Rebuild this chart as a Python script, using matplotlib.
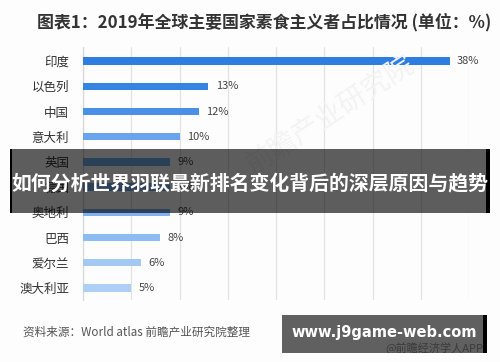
import matplotlib
matplotlib.use("Agg")
import matplotlib.pyplot as plt
from matplotlib.patches import Rectangle

plt.rcParams['font.family'] = ['Noto Sans CJK SC', 'DejaVu Sans']

categories = ["印度", "以色列", "中国", "意大利", "英国", "德国", "奥地利", "巴西", "爱尔兰", "澳大利亚"]
values = [38, 13, 12, 10, 9, 9, 9, 8, 6, 5]
bar_colors = ["#2e7de0", "#3584e2", "#4a90e6", "#68a5ee", "#74acf0", "#78aef0",
              "#7eb2f0", "#8cbcf2", "#a2c8f4", "#afd0f6"]
xticks = [0, 5, 10, 15, 20, 25, 30, 35, 40]

W, H = 500, 362
fig = plt.figure(figsize=(W / 100, H / 100), dpi=100)
fig.patch.set_facecolor("#fdfdfd")

def fx(x):
    return x / W

def fy(y):
    return 1 - y / H

ax = fig.add_axes([fx(83), fy(300), fx(469) - fx(83), fy(47) - fy(300)])
ax.set_facecolor("none")
ypos = list(range(len(categories)))
ax.barh(ypos, values, height=0.29, color=bar_colors, zorder=3)
ax.set_xlim(0, 40)
ax.set_ylim(9.48, -0.56)
ax.set_xticks(xticks)
ax.set_xticklabels([])
ax.tick_params(axis="x", length=0)
ax.grid(axis="x", color="#e3e3e3", linewidth=0.9, zorder=0)
ax.set_yticks(ypos)
ax.set_yticklabels(categories, fontsize=9, color="#333333")
ax.tick_params(axis="y", length=0, pad=10)
for s in ["top", "right", "bottom"]:
    ax.spines[s].set_visible(False)
ax.spines["left"].set_color("#d8d8d8")
ax.spines["left"].set_linewidth(0.9)
for yv, v in zip(ypos, values):
    ax.text(v + 0.75, yv, f"{v}%", va="center", ha="left", fontsize=8, color="#444444", zorder=4)

# faint watermark
fig.text(fx(330), fy(115), "前瞻产业研究院", fontsize=20, color="#f3f3f3", rotation=33,
         ha="center", va="center", zorder=1)

# title
fig.text(fx(37), fy(22), "图表1：2019年全球主要国家素食主义者占比情况 (单位：%)",
         fontsize=12.2, fontweight="bold", color="#333333", ha="left", va="center")

# source
fig.text(fx(23), fy(332), "资料来源：World atlas 前瞻产业研究院整理",
         fontsize=8.4, color="#555555", ha="left", va="center")

# overlay banner
fig.patches.append(Rectangle((fx(10), fy(212.5)), fx(486) - fx(10), fy(149) - fy(212.5),
                             transform=fig.transFigure, facecolor="black", alpha=0.63,
                             edgecolor="none", zorder=10))
fig.patches.append(Rectangle((fx(10), fy(212.5)), fx(1.5), fy(149) - fy(212.5),
                             transform=fig.transFigure, facecolor="black",
                             edgecolor="none", zorder=11))
fig.patches.append(Rectangle((fx(486), fy(212.5)), fx(4), fy(149) - fy(212.5),
                             transform=fig.transFigure, facecolor="black",
                             edgecolor="none", zorder=11))
fig.text(fx(250), fy(183), "如何分析世界羽联最新排名变化背后的深层原因与趋势",
         fontsize=14.3, fontweight="bold", color="white", ha="center", va="center", zorder=12)

# bottom-right box
box = Rectangle((fx(282), fy(353)), fx(483) - fx(282), fy(315) - fy(353),
                transform=fig.transFigure, facecolor="#606060", edgecolor="none", zorder=10)
fig.patches.append(box)
fig.patches.append(Rectangle((fx(483), fy(353)), fx(4), fy(315) - fy(353),
                             transform=fig.transFigure, facecolor="black",
                             edgecolor="none", zorder=11))
fig.text(fx(384), fy(333), "www.j9game-web.com", fontsize=10.5, fontweight="bold",
         family="DejaVu Sans", color="white", ha="center", va="center", zorder=12)
t = fig.text(fx(483), fy(348), "@前瞻经济学人APP", fontsize=8, color="#3a3a3a",
             ha="right", va="center", zorder=12)
t.set_clip_path(box)

fig.savefig("out.png", dpi=100, facecolor=fig.get_facecolor())
